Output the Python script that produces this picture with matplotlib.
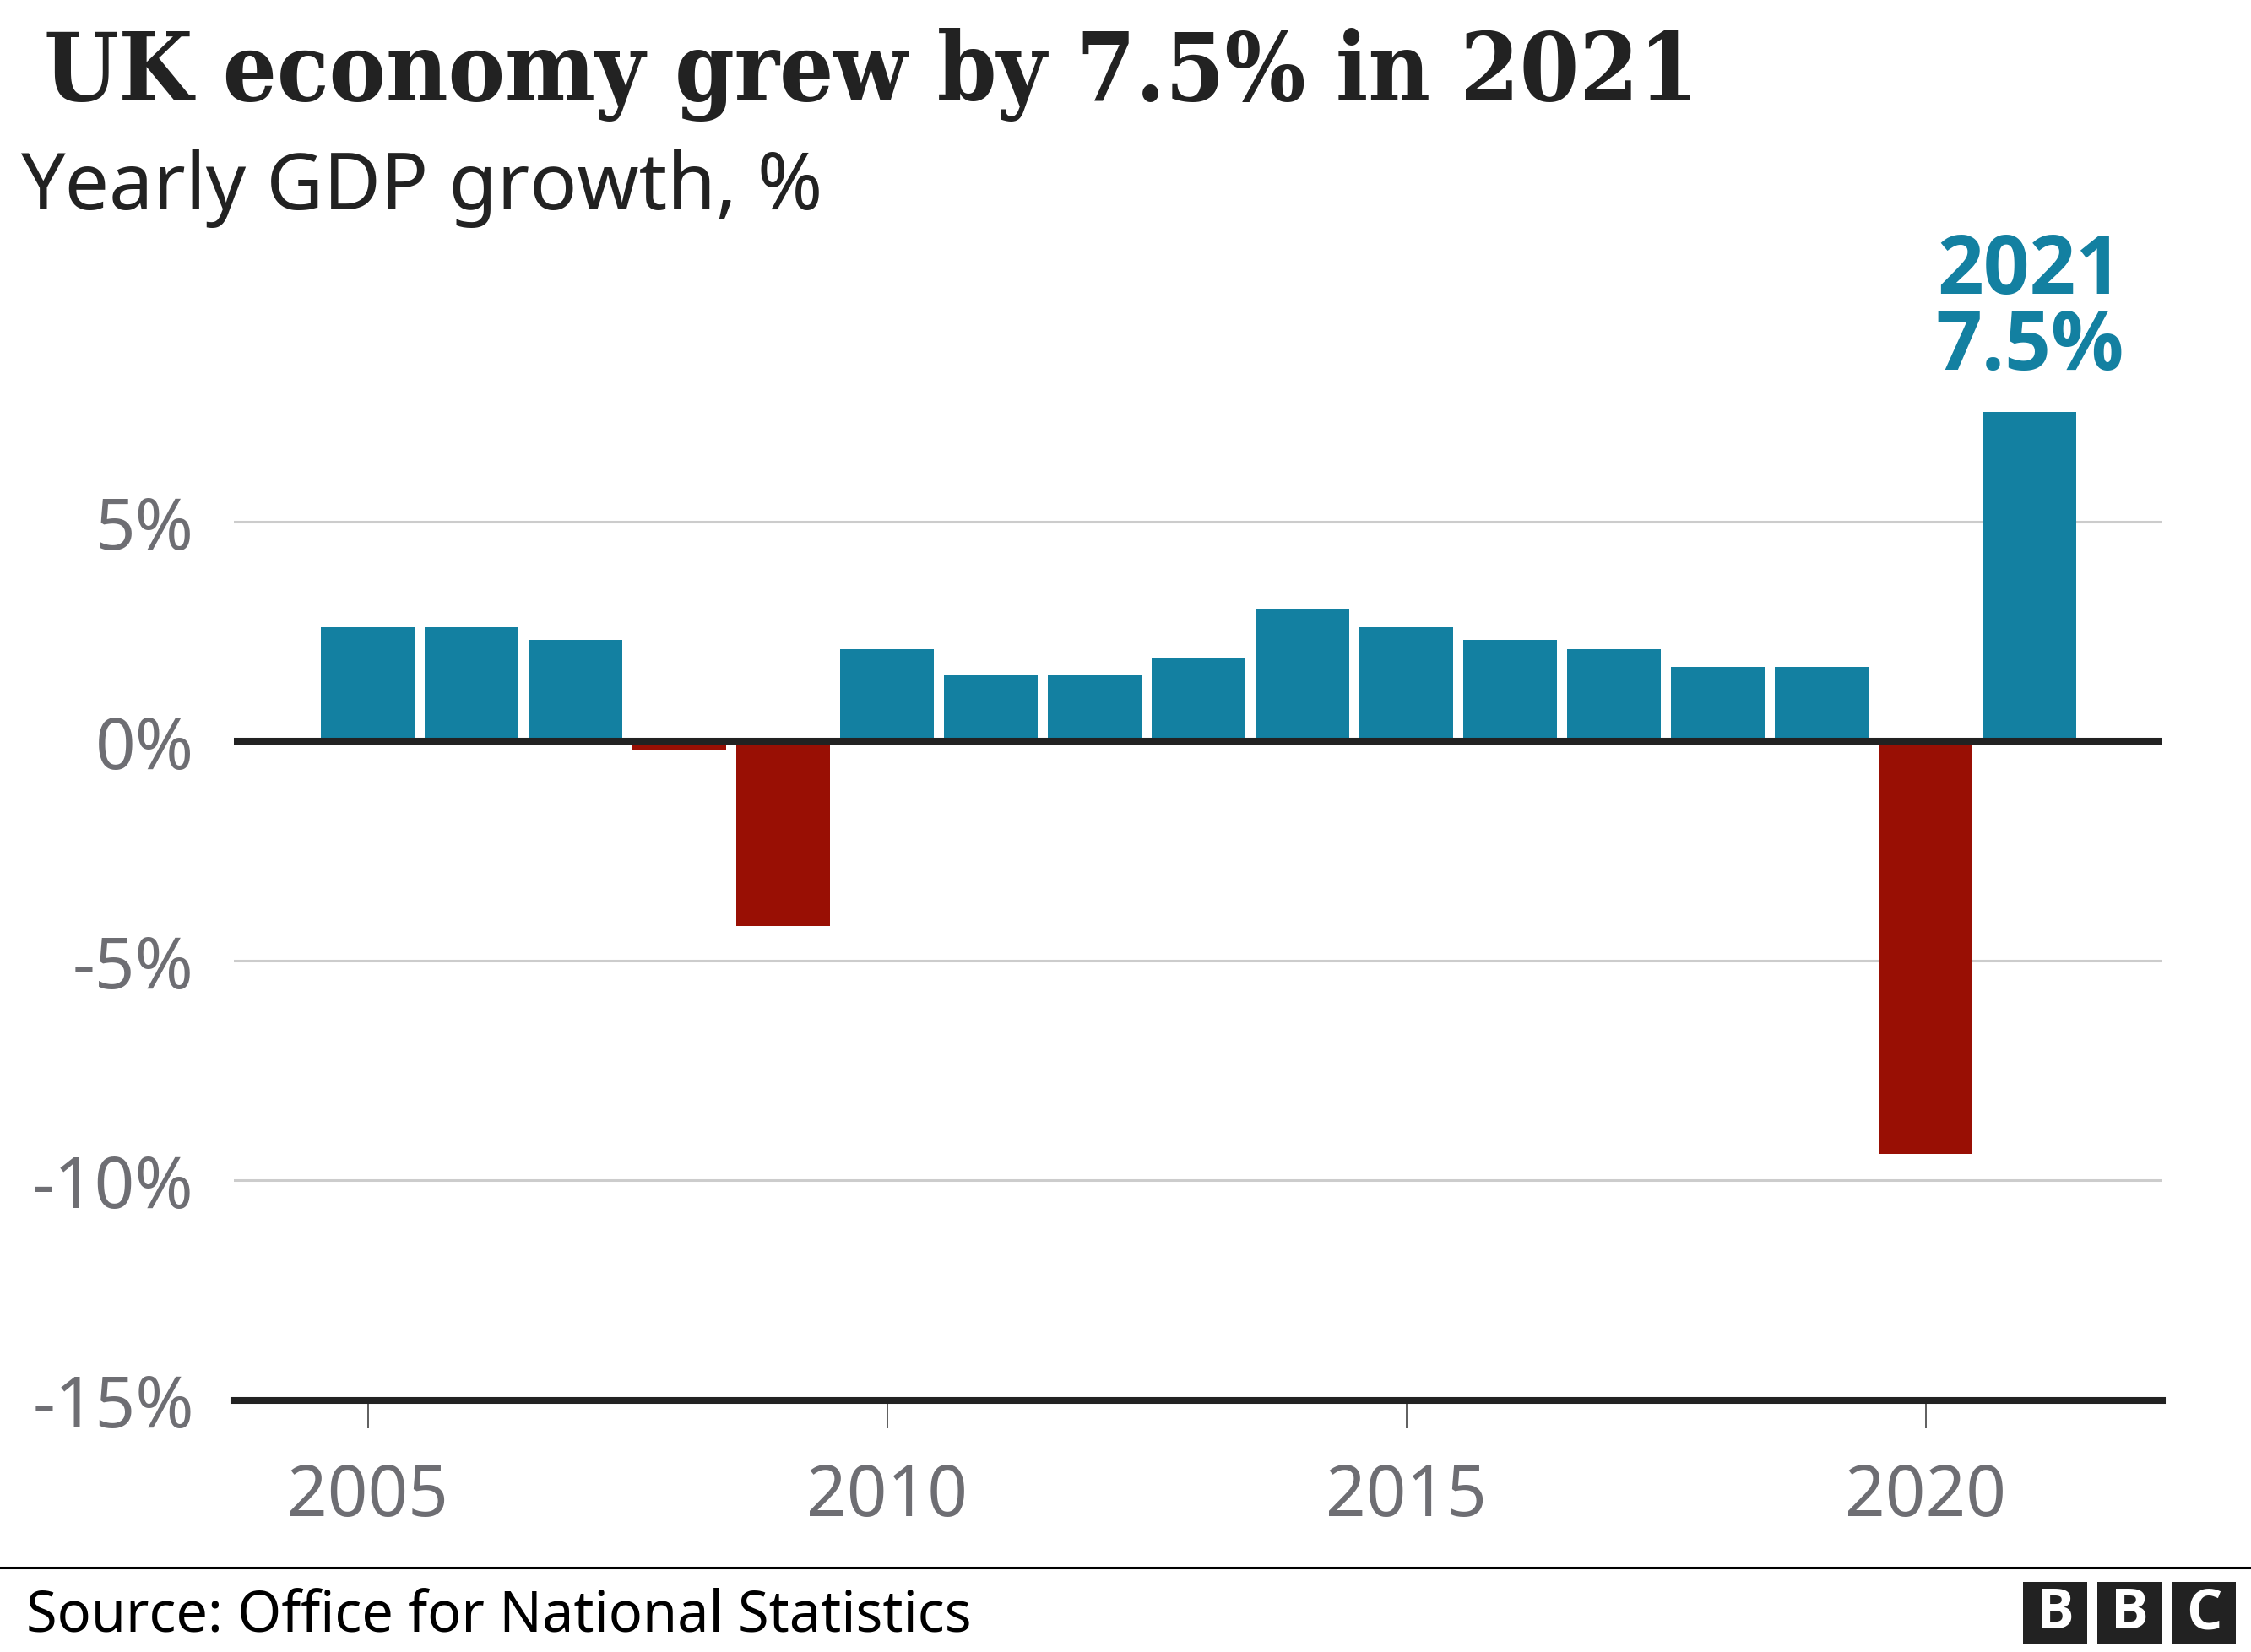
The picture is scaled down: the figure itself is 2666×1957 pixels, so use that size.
import matplotlib.pyplot as plt
from matplotlib.patches import Rectangle

years = list(range(2005, 2022))
growth = [2.6, 2.6, 2.3, -0.2, -4.2, 2.1, 1.5, 1.5, 1.9, 3.0, 2.6, 2.3, 2.1, 1.7, 1.7, -9.4, 7.5]
yticks = [5, 0, -5, -10, -15]
ylabels = ["5%", "0%", "-5%", "-10%", "-15%"]
xticks = [2005, 2010, 2015, 2020]

TEAL = "#1380A1"
RED = "#990F04"
DARK = "#222222"
GREY = "#6E6E73"

W, H = 2666, 1958
fig = plt.figure(figsize=(W / 100, H / 100), dpi=100)
fig.patch.set_facecolor("white")

# axes placed by pixel measurements of the reference
ax = fig.add_axes([277 / W, (H - 1659.5) / H, (2561 - 277) / W, (1659.5 - 410.9) / H])
colors = [TEAL if v >= 0 else RED for v in growth]
ax.bar(years, growth, width=0.9, color=colors, zorder=2)

ax.set_xlim(2003.71, 2022.28)
ax.set_ylim(-15, 9)

for g in [5, -5, -10]:
    ax.axhline(g, color="#cccccc", lw=2.2, zorder=1)
ax.axhline(0, color=DARK, lw=5.8, zorder=3)

for s in ["top", "left", "right"]:
    ax.spines[s].set_visible(False)
ax.spines["bottom"].set_color(DARK)
ax.spines["bottom"].set_linewidth(5.8)
ax.spines["bottom"].set_zorder(4)

ax.set_yticks(yticks)
ax.set_yticklabels(ylabels)
ax.set_xticks(xticks)
ax.set_xticklabels([str(x) for x in xticks])
ax.tick_params(axis="y", length=0, pad=34, labelsize=60, labelcolor=GREY)
ax.tick_params(axis="x", length=24, width=1.1, color="#333333", pad=28,
               labelsize=60, labelcolor=GREY)
for lab in ax.get_xticklabels() + ax.get_yticklabels():
    lab.set_family("Noto Sans")

# annotation over the 2021 bar
ax.text(2021, 10.2, "2021", ha="center", va="baseline", fontsize=69,
        fontweight="bold", color=TEAL, family="Open Sans", clip_on=False)
ax.text(2021, 8.48, "7.5%", ha="center", va="baseline", fontsize=69,
        fontweight="bold", color=TEAL, family="Open Sans", clip_on=False)

# titles
fig.text(52 / W, (H - 119) / H, "UK economy grew by 7.5% in 2021", fontsize=81,
         fontweight="bold", family="DejaVu Serif", fontstretch="condensed",
         color=DARK, va="baseline")
fig.text(24 / W, (H - 248) / H, "Yearly GDP growth, %", fontsize=67,
         family="Noto Sans", color=DARK, va="baseline")

# footer
fig.add_artist(plt.Line2D([0, 1], [(H - 1858) / H] * 2, color="black", lw=2.2,
                          transform=fig.transFigure))
fig.text(31 / W, (H - 1933) / H, "Source: Office for National Statistics",
         fontsize=48, family="Noto Sans", color="black", va="baseline")

for i, letter in enumerate("BBC"):
    x0 = 2396 + i * 88
    fig.add_artist(Rectangle((x0 / W, (H - 1949) / H), 76 / W, 74 / H,
                             transform=fig.transFigure, color=DARK, lw=0))
    fig.text((x0 + 38) / W, (H - 1912) / H, letter, fontsize=48, fontweight="bold",
             family="Open Sans", color="white", ha="center", va="center")

fig.savefig("out.png", dpi=100)
